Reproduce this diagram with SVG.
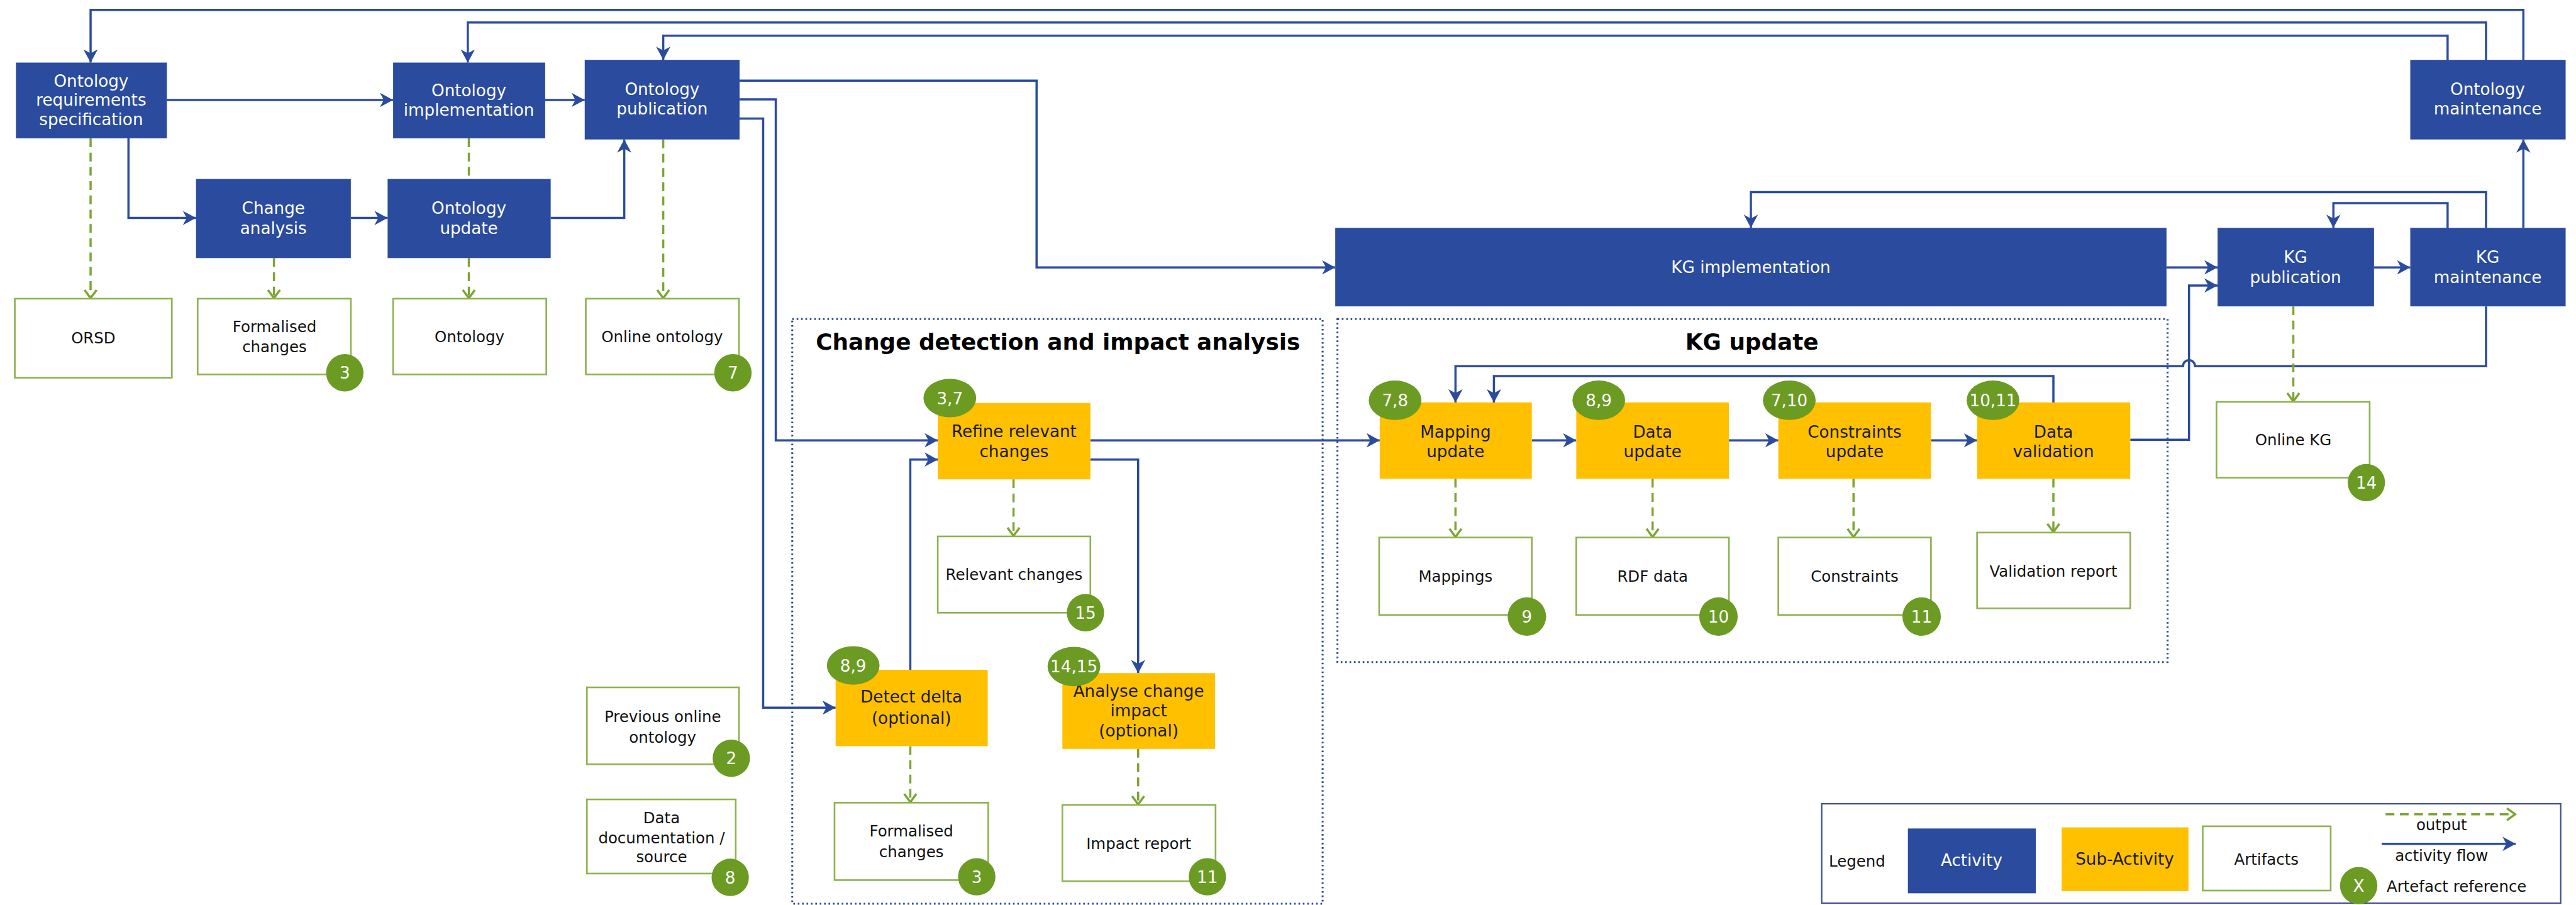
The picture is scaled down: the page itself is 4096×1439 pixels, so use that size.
<svg xmlns="http://www.w3.org/2000/svg" width="4096" height="1439" viewBox="0 0 4096 1439">
<defs>
<style>
.act{fill:#2A4B9E}
.sub{fill:#FFC000}
.art{fill:#fff;stroke:#8DB24F;stroke-width:3}
.t{font-family:"DejaVu Sans",Verdana,sans-serif;text-anchor:middle}
.tw{fill:#fff;font-size:30px}
.td{fill:#1a1a1a;font-size:30px}
.ta{fill:#111;font-size:28px}
.bd{fill:#6B9B23}
.bt{fill:#fff;font-size:30px}
.flow{fill:none;stroke:#2A4B9E;stroke-width:4;marker-end:url(#ab)}
.out{fill:none;stroke:#7DA534;stroke-width:4;stroke-dasharray:16 10;marker-end:url(#ag)}
.plain{fill:none;stroke:#7DA534;stroke-width:4;stroke-dasharray:16 10}
.grp{fill:none;stroke:#2F4B8F;stroke-width:3.5;stroke-dasharray:3 5}
.title{font-family:"DejaVu Sans",Verdana,sans-serif;font-weight:bold;font-size:41px;fill:#000;text-anchor:middle}
</style>
<marker id="ab" viewBox="-24 -14 26 28" refX="0" refY="0" markerWidth="26" markerHeight="28" markerUnits="userSpaceOnUse" orient="auto"><path d="M0,0 L-24,-13 L-17,0 L-24,13 Z" fill="#2A4B9E"/></marker>
<marker id="ag" viewBox="-20 -14 22 28" refX="0" refY="0" markerWidth="22" markerHeight="28" markerUnits="userSpaceOnUse" orient="auto"><path d="M-16,-11 L-1,0 L-16,11" fill="none" stroke="#7DA534" stroke-width="4"/></marker>
</defs>
<rect width="4096" height="1439" fill="#fff"/>
<g transform="scale(0.873)">

<g id="groups">
<rect class="grp" x="1443" y="581" width="966" height="1065"/>
<text class="title" x="1927" y="637">Change detection and impact analysis</text>
<rect class="grp" x="2436" y="581" width="1512" height="625"/>
<text class="title" x="3191" y="637">KG update</text>
</g>

<g id="connectors">
<path class="flow" d="M4596,109 V18 H165 V114"/>
<path class="flow" d="M4528,109 V41 H852 V114"/>
<path class="flow" d="M4458,109 V65 H1208 V109"/>
<path class="flow" d="M304,182 H716"/>
<path class="flow" d="M993,182 H1065"/>
<path class="flow" d="M234,252 V397 H357"/>
<path class="flow" d="M639,397 H706"/>
<path class="flow" d="M1003,397 H1137 V254"/>
<path class="flow" d="M1347,147 H1888 V487 H2432"/>
<path class="flow" d="M1347,181 H1413 V802 H1708"/>
<path class="flow" d="M1347,216 H1390 V1289 H1522"/>
<path class="flow" d="M1658,1220 V837 H1708"/>
<path class="flow" d="M1986,837 H2073 V1226"/>
<path class="flow" d="M1986,802 H2513"/>
<path class="flow" d="M2790,802 H2871"/>
<path class="flow" d="M3149,802 H3239"/>
<path class="flow" d="M3517,802 H3601"/>
<path class="flow" d="M3880,801 H3987 V520 H4039"/>
<path class="flow" d="M3740,733 V685 H2721 V733"/>
<path class="flow" d="M4528,558 V667 H3998 A11,11 0 0 0 3976,667 H2651 V733"/>
<path class="flow" d="M3946,487 H4039"/>
<path class="flow" d="M4324,487 H4390"/>
<path class="flow" d="M4596,415 V254"/>
<path class="flow" d="M4528,415 V350 H3189 V415"/>
<path class="flow" d="M4458,415 V370 H4250 V415"/>

<path class="out" d="M165,252 V544"/>
<path class="out" d="M499,470 V544"/>
<path class="plain" d="M854,252 V326"/>
<path class="out" d="M854,470 V544"/>
<path class="out" d="M1208,254 V544"/>
<path class="out" d="M1846,873 V977"/>
<path class="out" d="M1658,1359 V1462"/>
<path class="out" d="M2073,1364 V1466"/>
<path class="out" d="M2651,872 V979"/>
<path class="out" d="M3010,872 V979"/>
<path class="out" d="M3376,872 V979"/>
<path class="out" d="M3740,872 V970"/>
<path class="out" d="M4177,558 V732"/>
</g>

<g id="n-ors"><rect class="act" x="29" y="114" width="275" height="138"/><text class="t tw" x="166"><tspan x="166" y="158">Ontology</tspan><tspan x="166" y="193">requirements</tspan><tspan x="166" y="228">specification</tspan></text></g>
<g id="n-oimpl"><rect class="act" x="716" y="114" width="277" height="138"/><text class="t tw"><tspan x="854" y="175">Ontology</tspan><tspan x="854" y="211">implementation</tspan></text></g>
<g id="n-opub"><rect class="act" x="1065" y="109" width="282" height="145"/><text class="t tw"><tspan x="1206" y="173">Ontology</tspan><tspan x="1206" y="209">publication</tspan></text></g>
<g id="n-chg"><rect class="act" x="357" y="326" width="282" height="144"/><text class="t tw"><tspan x="498" y="390">Change</tspan><tspan x="498" y="426">analysis</tspan></text></g>
<g id="n-oupd"><rect class="act" x="706" y="326" width="297" height="144"/><text class="t tw"><tspan x="854" y="390">Ontology</tspan><tspan x="854" y="426">update</tspan></text></g>
<g id="n-kgimpl"><rect class="act" x="2432" y="415" width="1514" height="143"/><text class="t tw" x="3189" y="497">KG implementation</text></g>
<g id="n-kgpub"><rect class="act" x="4039" y="415" width="285" height="143"/><text class="t tw"><tspan x="4181" y="479">KG</tspan><tspan x="4181" y="515">publication</tspan></text></g>
<g id="n-kgmaint"><rect class="act" x="4390" y="415" width="283" height="143"/><text class="t tw"><tspan x="4531" y="479">KG</tspan><tspan x="4531" y="515">maintenance</tspan></text></g>
<g id="n-omaint"><rect class="act" x="4390" y="109" width="283" height="145"/><text class="t tw"><tspan x="4531" y="173">Ontology</tspan><tspan x="4531" y="209">maintenance</tspan></text></g>

<g id="n-refine"><rect class="sub" x="1708" y="734" width="278" height="139"/><text class="t td"><tspan x="1847" y="796">Refine relevant</tspan><tspan x="1847" y="833">changes</tspan></text><ellipse class="bd" cx="1730" cy="725" rx="48" ry="35"/><text class="t bt" x="1730" y="736">3,7</text></g>
<g id="n-detect"><rect class="sub" x="1522" y="1220" width="277" height="139"/><text class="t td"><tspan x="1660" y="1280">Detect delta</tspan><tspan x="1660" y="1318">(optional)</tspan></text><ellipse class="bd" cx="1554" cy="1212" rx="48" ry="35"/><text class="t bt" x="1554" y="1223">8,9</text></g>
<g id="n-analyse"><rect class="sub" x="1935" y="1226" width="278" height="138"/><text class="t td"><tspan x="2074" y="1269">Analyse change</tspan><tspan x="2074" y="1305">impact</tspan><tspan x="2074" y="1341">(optional)</tspan></text><ellipse class="bd" cx="1956" cy="1214" rx="48" ry="36"/><text class="t bt" x="1956" y="1225">14,15</text></g>
<g id="n-mapupd"><rect class="sub" x="2513" y="733" width="277" height="139"/><text class="t td"><tspan x="2651" y="797">Mapping</tspan><tspan x="2651" y="833">update</tspan></text><ellipse class="bd" cx="2541" cy="729" rx="48" ry="36"/><text class="t bt" x="2541" y="740">7,8</text></g>
<g id="n-dataupd"><rect class="sub" x="2871" y="733" width="278" height="139"/><text class="t td"><tspan x="3010" y="797">Data</tspan><tspan x="3010" y="833">update</tspan></text><ellipse class="bd" cx="2912" cy="729" rx="48" ry="36"/><text class="t bt" x="2912" y="740">8,9</text></g>
<g id="n-consupd"><rect class="sub" x="3239" y="733" width="278" height="139"/><text class="t td"><tspan x="3378" y="797">Constraints</tspan><tspan x="3378" y="833">update</tspan></text><ellipse class="bd" cx="3259" cy="729" rx="48" ry="36"/><text class="t bt" x="3259" y="740">7,10</text></g>
<g id="n-dataval"><rect class="sub" x="3601" y="733" width="279" height="139"/><text class="t td"><tspan x="3740" y="797">Data</tspan><tspan x="3740" y="833">validation</tspan></text><ellipse class="bd" cx="3630" cy="729" rx="48" ry="36"/><text class="t bt" x="3630" y="740">10,11</text></g>

<g id="a-orsd"><rect class="art" x="27" y="544" width="286" height="144"/><text class="t ta" x="170" y="626">ORSD</text></g>
<g id="a-fc1"><rect class="art" x="360" y="544" width="279" height="138"/><text class="t ta"><tspan x="500" y="605">Formalised</tspan><tspan x="500" y="641">changes</tspan></text><circle class="bd" cx="628" cy="679" r="34"/><text class="t bt" x="628" y="690">3</text></g>
<g id="a-ontology"><rect class="art" x="716" y="544" width="279" height="138"/><text class="t ta" x="855" y="623">Ontology</text></g>
<g id="a-online"><rect class="art" x="1067" y="544" width="279" height="138"/><text class="t ta" x="1206" y="623">Online ontology</text><circle class="bd" cx="1335" cy="679" r="34"/><text class="t bt" x="1335" y="690">7</text></g>
<g id="a-prev"><rect class="art" x="1069" y="1252" width="277" height="140"/><text class="t ta"><tspan x="1207" y="1315">Previous online</tspan><tspan x="1207" y="1353">ontology</tspan></text><circle class="bd" cx="1332" cy="1381" r="34"/><text class="t bt" x="1332" y="1392">2</text></g>
<g id="a-datadoc"><rect class="art" x="1069" y="1456" width="271" height="135"/><text class="t ta"><tspan x="1205" y="1499">Data</tspan><tspan x="1205" y="1536">documentation /</tspan><tspan x="1205" y="1570">source</tspan></text><circle class="bd" cx="1330" cy="1598" r="34"/><text class="t bt" x="1330" y="1609">8</text></g>
<g id="a-relevant"><rect class="art" x="1708" y="977" width="278" height="139"/><text class="t ta" x="1847" y="1056">Relevant changes</text><circle class="bd" cx="1977" cy="1116" r="34"/><text class="t bt" x="1977" y="1127">15</text></g>
<g id="a-fc2"><rect class="art" x="1520" y="1462" width="280" height="141"/><text class="t ta"><tspan x="1660" y="1523">Formalised</tspan><tspan x="1660" y="1561">changes</tspan></text><circle class="bd" cx="1779" cy="1597" r="34"/><text class="t bt" x="1779" y="1608">3</text></g>
<g id="a-impact"><rect class="art" x="1935" y="1466" width="279" height="139"/><text class="t ta" x="2074" y="1546">Impact report</text><circle class="bd" cx="2199" cy="1597" r="34"/><text class="t bt" x="2199" y="1608">11</text></g>
<g id="a-mappings"><rect class="art" x="2512" y="979" width="278" height="141"/><text class="t ta" x="2651" y="1060">Mappings</text><circle class="bd" cx="2781" cy="1123" r="35"/><text class="t bt" x="2781" y="1134">9</text></g>
<g id="a-rdf"><rect class="art" x="2871" y="979" width="278" height="141"/><text class="t ta" x="3010" y="1060">RDF data</text><circle class="bd" cx="3130" cy="1123" r="35"/><text class="t bt" x="3130" y="1134">10</text></g>
<g id="a-constraints"><rect class="art" x="3239" y="979" width="278" height="141"/><text class="t ta" x="3378" y="1060">Constraints</text><circle class="bd" cx="3500" cy="1123" r="35"/><text class="t bt" x="3500" y="1134">11</text></g>
<g id="a-valrep"><rect class="art" x="3601" y="970" width="279" height="138"/><text class="t ta" x="3740" y="1050">Validation report</text></g>
<g id="a-onlinekg"><rect class="art" x="4037" y="732" width="279" height="138"/><text class="t ta" x="4177" y="811">Online KG</text><circle class="bd" cx="4310" cy="879" r="34"/><text class="t bt" x="4310" y="890">14</text></g>

<g id="legend">
<rect x="3318" y="1464" width="1346" height="181" fill="#fff" stroke="#3C4F8A" stroke-width="2.5"/>
<text class="ta" x="3331" y="1578" style="font-family:'DejaVu Sans',Verdana,sans-serif">Legend</text>
<rect class="act" x="3475" y="1509" width="233" height="118"/><text class="t tw" x="3591" y="1577">Activity</text>
<rect class="sub" x="3755" y="1507" width="231" height="116"/><text class="t td" x="3870" y="1575">Sub-Activity</text>
<rect class="art" x="4012" y="1505" width="233" height="117"/><text class="t ta" x="4128" y="1575">Artifacts</text>
<path class="out" d="M4345,1483 H4582"/>
<text class="t ta" x="4447" y="1512">output</text>
<path class="flow" d="M4338,1537 H4582"/>
<text class="t ta" x="4447" y="1568">activity flow</text>
<circle class="bd" cx="4296" cy="1613" r="34"/><text class="t bt" x="4296" y="1624">X</text>
<text class="ta" x="4347" y="1624" style="font-family:'DejaVu Sans',Verdana,sans-serif">Artefact reference</text>
</g>
</g>
</svg>
